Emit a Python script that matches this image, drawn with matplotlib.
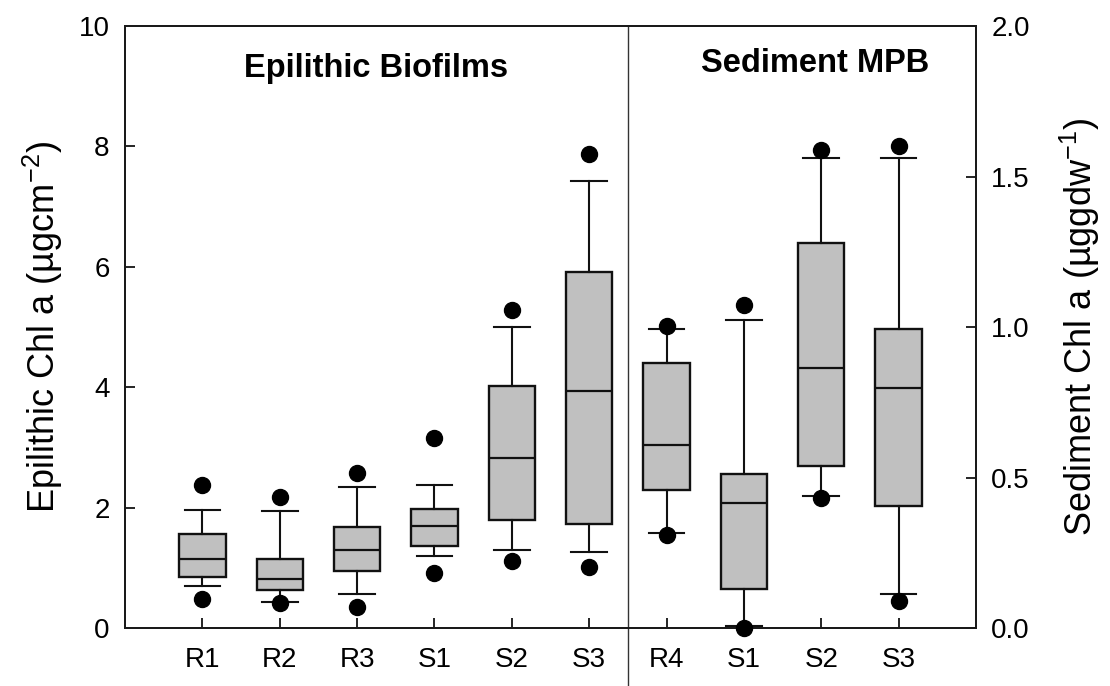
import matplotlib
matplotlib.use("Agg")
from matplotlib import pyplot as plt

plt.rcParams['font.family'] = ['Liberation Sans', 'DejaVu Sans']
plt.rcParams['mathtext.fontset'] = 'custom'
plt.rcParams['mathtext.rm'] = 'Liberation Sans'
plt.rcParams['mathtext.it'] = 'Liberation Sans:italic'
plt.rcParams['mathtext.bf'] = 'Liberation Sans:bold'

# epilithic biofilms (left axis, ug cm-2)
epi_labels = ['R1', 'R2', 'R3', 'S1', 'S2', 'S3']
epi_whislo = [0.70, 0.44, 0.56, 1.20, 1.29, 1.27]
epi_q1 = [0.84, 0.64, 0.95, 1.36, 1.79, 1.73]
epi_med = [1.15, 0.81, 1.30, 1.69, 2.82, 3.93]
epi_q3 = [1.57, 1.15, 1.68, 1.98, 4.02, 5.92]
epi_whishi = [1.965, 1.94, 2.34, 2.37, 5.00, 7.42]
epi_out_lo = [0.49, 0.41, 0.35, 0.91, 1.12, 1.02]
epi_out_hi = [2.37, 2.18, 2.58, 3.16, 5.29, 7.87]

# sediment MPB (right axis, ug gdw-1)
sed_labels = ['R4', 'S1', 'S2', 'S3']
sed_whislo = [0.317, 0.007, 0.439, 0.113]
sed_q1 = [0.459, 0.131, 0.537, 0.405]
sed_med = [0.607, 0.415, 0.864, 0.799]
sed_q3 = [0.881, 0.513, 1.279, 0.995]
sed_whishi = [0.995, 1.024, 1.561, 1.561]
sed_out_lo = [0.310, 0.0, 0.433, 0.090]
sed_out_hi = [1.005, 1.073, 1.587, 1.602]


def make_stats(labels, wlo, q1, med, q3, whi, olo, ohi):
    stats = []
    for i in range(len(labels)):
        stats.append({'label': labels[i], 'whislo': wlo[i], 'q1': q1[i], 'med': med[i],
                      'q3': q3[i], 'whishi': whi[i], 'fliers': [olo[i], ohi[i]]})
    return stats


box_style = dict(
    widths=0.6, capwidths=0.46, patch_artist=True, manage_ticks=False,
    boxprops=dict(facecolor='#c0c0c0', edgecolor='#111111', linewidth=1.7),
    medianprops=dict(color='#111111', linewidth=1.6),
    whiskerprops=dict(color='#111111', linewidth=1.5),
    capprops=dict(color='#111111', linewidth=1.5),
    flierprops=dict(marker='o', markerfacecolor='black', markeredgecolor='black',
                    markersize=11.5, linestyle='none', clip_on=False, zorder=5),
)

fig = plt.figure(figsize=(11.1, 6.86), dpi=100)
ax1 = fig.add_axes([0.1126, 0.0845, 0.7667, 0.8775])
ax2 = ax1.twinx()

epi_pos = [1, 2, 3, 4, 5, 6]
sed_pos = [7, 8, 9, 10]
ax1.bxp(make_stats(epi_labels, epi_whislo, epi_q1, epi_med, epi_q3, epi_whishi,
                   epi_out_lo, epi_out_hi), positions=epi_pos, **box_style)
ax2.bxp(make_stats(sed_labels, sed_whislo, sed_q1, sed_med, sed_q3, sed_whishi,
                   sed_out_lo, sed_out_hi), positions=sed_pos, **box_style)

ax1.set_xlim(0, 11)
ax1.set_ylim(0, 10)
ax2.set_ylim(0, 2.0)

ax1.set_xticks(epi_pos + sed_pos)
ax1.set_xticklabels(epi_labels + sed_labels)
ax1.set_yticks([0, 2, 4, 6, 8, 10])
ax2.set_yticks([0, 0.5, 1.0, 1.5, 2.0])
ax2.set_yticklabels(['0.0', '0.5', '1.0', '1.5', '2.0'])

ax1.tick_params(axis='x', direction='in', length=7, width=1.2, pad=14, labelsize=20)
ax1.tick_params(axis='y', direction='in', length=7, width=1.2, pad=11, labelsize=20)
ax2.tick_params(axis='y', direction='in', length=7, width=1.2, pad=11, labelsize=20)
for a in (ax1, ax2):
    for s in a.spines.values():
        s.set_linewidth(1.4)
        s.set_color('#1a1a1a')

# divider between the two groups
ax1.plot([6.5, 6.5], [10, -1.3], color='#333333', linewidth=1.0, clip_on=False)

ax1.text(3.25, 9.16, 'Epilithic Biofilms', fontsize=23.5, fontweight='bold', ha='center', va='baseline')
ax1.text(8.92, 9.23, 'Sediment MPB', fontsize=23.5, fontweight='bold', ha='center', va='baseline')

ax1.set_ylabel('Epilithic Chl a (µgcm$^{-2}$)', fontsize=26, labelpad=10)
ax2.set_ylabel('Sediment Chl a (µggdw$^{-1}$)', fontsize=26, labelpad=20)

plt.savefig('out.png', dpi=100)
